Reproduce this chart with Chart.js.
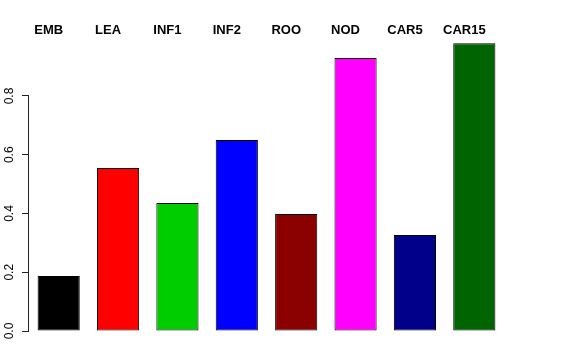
<!DOCTYPE html>
<html>
<head>
<meta charset="utf-8">
<script src="https://cdn.jsdelivr.net/npm/chart.js@4"></script>
<style>
  html, body { margin: 0; padding: 0; background: #fff; }
  #wrap { width: 576px; height: 360px; }
</style>
</head>
<body>
<div id="wrap"><canvas id="chart" width="576" height="360"></canvas></div>
<script>
const categories = ["EMB", "LEA", "INF1", "INF2", "ROO", "NOD", "CAR5", "CAR15"];
const values = [0.187, 0.555, 0.436, 0.650, 0.398, 0.929, 0.327, 0.980];
const barColors = ["#000000", "#FF0000", "#00CD00", "#0000FF", "#8B0000", "#FF00FF", "#00008B", "#006400"];
const yTicks = [0, 0.2, 0.4, 0.6, 0.8];

// R-style axis: the line only runs from the first to the last tick
const axisLine = {
  id: "axisLine",
  afterDraw(chart) {
    const y = chart.scales.y;
    const ctx = chart.ctx;
    const x = Math.round(chart.chartArea.left) - 0.5;
    ctx.save();
    ctx.strokeStyle = "#222";
    ctx.lineWidth = 1;
    ctx.beginPath();
    ctx.moveTo(x, y.getPixelForValue(yTicks[0]));
    ctx.lineTo(x, y.getPixelForValue(yTicks[yTicks.length - 1]));
    ctx.stroke();
    ctx.restore();
  }
};

const ctx = document.getElementById("chart").getContext("2d");
new Chart(ctx, {
  type: "bar",
  data: {
    labels: categories,
    datasets: [{
      data: values,
      backgroundColor: barColors,
      borderColor: "#000",
      borderWidth: 1,
      borderSkipped: false,
      categoryPercentage: 1.0,
      barPercentage: 0.71
    }]
  },
  options: {
    responsive: false,
    animation: false,
    layout: { padding: { left: 0, right: 72, top: 20, bottom: 29 } },
    plugins: { legend: { display: false }, tooltip: { enabled: false } },
    scales: {
      x: {
        position: "top",
        grid: { display: false, drawTicks: false },
        border: { display: false },
        ticks: {
          color: "#000",
          padding: -1,
          labelOffset: -10,
          font: { family: "Liberation Sans", size: 13, weight: "bold" }
        },
        afterFit: s => { s.height = 17.25; }
      },
      y: {
        min: 0,
        max: 1.0,
        grid: { drawOnChartArea: false, tickLength: 7, color: "#222" },
        border: { display: false },
        afterBuildTicks: s => { s.ticks = yTicks.map(v => ({ value: v })); },
        afterFit: s => { s.width = 29; },
        ticks: {
          color: "#000",
          padding: 4,
          minRotation: 90,
          maxRotation: 90,
          crossAlign: "center",
          callback: v => v.toFixed(1),
          font: { family: "Liberation Sans", size: 12 }
        }
      }
    }
  },
  plugins: [axisLine]
});
</script>
</body>
</html>
